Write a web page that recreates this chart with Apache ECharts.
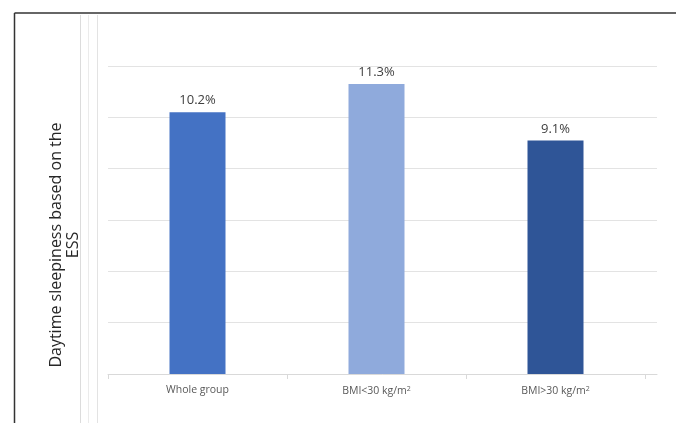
<!DOCTYPE html>
<html>
<head>
<meta charset="utf-8">
<script src="https://cdn.jsdelivr.net/npm/echarts@6/dist/echarts.min.js"></script>
<style>html,body{margin:0;padding:0;background:#fff}#c{width:676px;height:423px}</style>
</head>
<body>
<div id="c"></div>
<script>
var categories = ['Whole group', 'BMI<30 kg/m{sup|2}', 'BMI>30 kg/m{sup|2}'];
var values = [10.2, 11.3, 9.1];
var barColors = ['#4472C4', '#8FAADC', '#2F5597'];
var yTitle = 'Daytime sleepiness based on the\nESS';

var chart = echarts.init(document.getElementById('c'), null, {renderer: 'canvas'});
var font = '"Open Sans", "Noto Sans", sans-serif';
chart.setOption({
  animation: false,
  backgroundColor: '#fff',
  grid: [
    {left: 108, top: 66, width: 537, height: 308},
    {left: 108, top: 66, width: 549, height: 308}
  ],
  xAxis: [
    {
      type: 'category', gridIndex: 0, data: categories,
      axisLine: {show: false},
      axisTick: {show: true, length: 5, lineStyle: {color: '#d9d9d9'}},
      axisLabel: {
        margin: 11, color: '#595959', fontSize: 10.5, fontFamily: font,
        rich: {sup: {fontSize: 7, verticalAlign: 'top', padding: [0, 0, 6, 0], color: '#595959', fontFamily: font}}
      }
    },
    {
      type: 'value', gridIndex: 1, min: 0, max: 1, show: true,
      axisLine: {show: true, lineStyle: {color: '#d9d9d9', width: 1}},
      axisTick: {show: false}, axisLabel: {show: false}, splitLine: {show: false}
    }
  ],
  yAxis: [
    {
      type: 'value', gridIndex: 0, min: 0, max: 12, interval: 2,
      axisLine: {show: false}, axisTick: {show: false}, axisLabel: {show: false},
      splitLine: {show: false}
    },
    {
      type: 'value', gridIndex: 1, min: 0, max: 12, interval: 2,
      axisLine: {show: false}, axisTick: {show: false}, axisLabel: {show: false},
      splitLine: {show: true, lineStyle: {color: '#e3e3e3', width: 1}}
    }
  ],
  series: [{
    type: 'bar', xAxisIndex: 0, yAxisIndex: 0,
    barWidth: 56,
    data: values.map(function (v, i) { return {value: v, itemStyle: {color: barColors[i]}}; }),
    label: {
      show: true, position: 'top', distance: 5,
      formatter: function (p) { return p.value.toFixed(1) + '%'; },
      color: '#404040', fontSize: 13, fontFamily: font
    }
  }],
  graphic: [
    {type: 'line', shape: {x1: 14.5, y1: 13, x2: 676, y2: 13}, style: {stroke: '#333', lineWidth: 1.5}},
    {type: 'line', shape: {x1: 14.5, y1: 13, x2: 14.5, y2: 423}, style: {stroke: '#333', lineWidth: 1.5}},
    {type: 'line', shape: {x1: 80.5, y1: 15, x2: 80.5, y2: 423}, style: {stroke: '#dcdcdc', lineWidth: 1}},
    {type: 'line', shape: {x1: 88.5, y1: 15, x2: 88.5, y2: 423}, style: {stroke: '#ebebeb', lineWidth: 1}},
    {type: 'line', shape: {x1: 97.5, y1: 15, x2: 97.5, y2: 423}, style: {stroke: '#e3e3e3', lineWidth: 1}},
    {
      type: 'text', x: 65, y: 245, rotation: Math.PI / 2,
      style: {
        text: yTitle, fill: '#262626', fontSize: 16, fontFamily: font,
        lineHeight: 17, align: 'center', verticalAlign: 'middle'
      }
    }
  ]
});
</script>
</body>
</html>
